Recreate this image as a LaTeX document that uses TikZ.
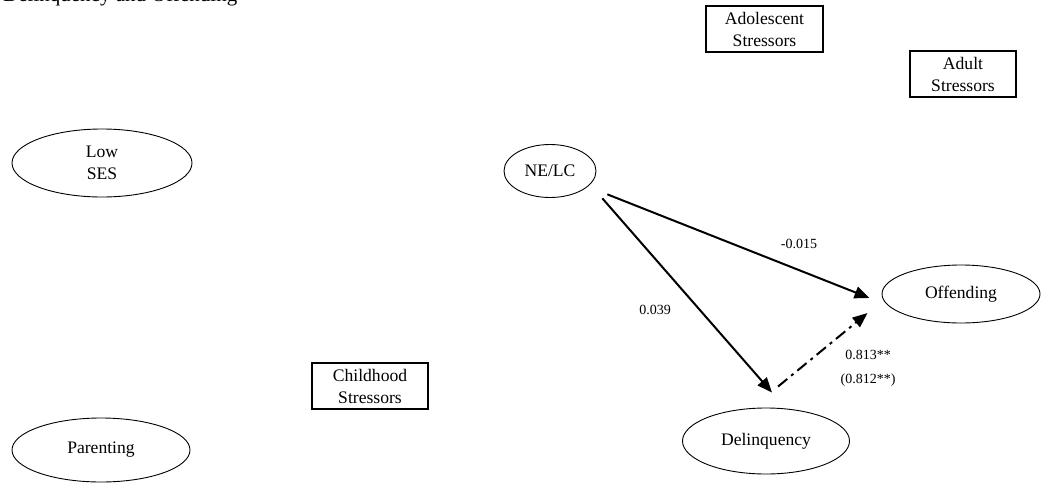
\documentclass[tikz,border=0pt]{standalone}
\usepackage{fontspec}
\setmainfont{Liberation Serif}
\usetikzlibrary{shapes.geometric,arrows.meta}

\tikzset{
  latent/.style={draw, ellipse, line width=0.9pt, inner sep=0pt, align=center,
    font=\fontsize{17.6}{22}\selectfont},
  stressbox/.style={draw, rectangle, line width=1.8pt, inner sep=0pt, align=center,
    font=\fontsize{17.6}{22}\selectfont, minimum height=46pt},
  path/.style={line width=2pt, -{Triangle[length=15pt,width=12pt]}},
  dashpath/.style={path, dash pattern=on 12pt off 5pt on 3pt off 5pt},
  coef/.style={font=\fontsize{14}{18}\selectfont, inner sep=0pt}
}

\begin{document}
\begin{tikzpicture}[x=1pt,y=-1pt]
\useasboundingbox (0,0) rectangle (1041,482);

% figure caption, running off the top edge
\node[anchor=base west, inner sep=0pt, font=\fontsize{21}{25}\selectfont] (caption) at (3,1.5) {Delinquency and Offending};

% latent constructs
\node[latent, minimum width=180pt, minimum height=68pt] (ses) at (102,163) {Low\\SES};
\node[latent, minimum width=178pt, minimum height=64pt] (par) at (101,450) {Parenting};
\node[latent, minimum width=92pt, minimum height=53pt] (nelc) at (550,171) {NE/LC};
\node[latent, minimum width=167pt, minimum height=66pt] (del) at (766,441) {Delinquency};
\node[latent, minimum width=158pt, minimum height=58pt] (off) at (961,294) {Offending};

% stressor measures
\node[stressbox, minimum width=117pt] (adol) at (764.5,29) {Adolescent\\Stressors};
\node[stressbox, minimum width=106pt] (adult) at (963,74) {Adult\\Stressors};
\node[stressbox, minimum width=116pt] (child) at (370,386) {Childhood\\Stressors};

% structural paths
\draw[path] ([shift={(24.5,4.3)}]nelc.south east) -- ([shift={(-12,4)}]off.west);
\draw[path] ([shift={(19.5,8.3)}]nelc.south east) -- ([shift={(6,-15)}]del.north);
\draw[dashpath] ([shift={(12,-21)}]del.north) -- ([shift={(-14,19)}]off.west);

% path coefficients
\node[coef] (c1) at (799,244) {-0.015};
\node[coef] (c2) at (655,310) {0.039};
\node[coef] (c3) at (868,355) {0.813**};
\node[coef] (c4) at (868,380) {(0.812**)};
\end{tikzpicture}
\end{document}
